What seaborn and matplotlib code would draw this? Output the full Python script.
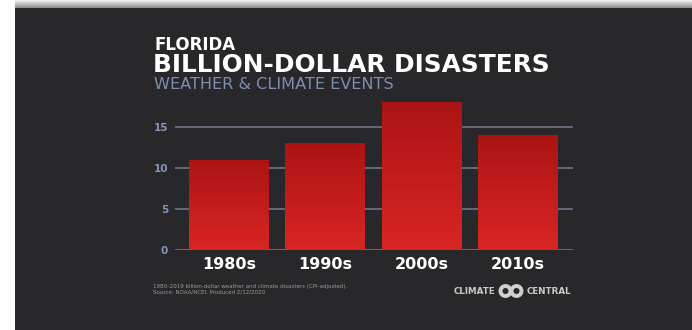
import numpy as np
import pandas as pd
import matplotlib
matplotlib.use("Agg")
import matplotlib.pyplot as plt
import seaborn as sns
from matplotlib.colors import LinearSegmentedColormap
from matplotlib.patches import Rectangle, Ellipse

decades = ["1980s", "1990s", "2000s", "2010s"]
disasters = [11, 13, 18, 14]
y_ticks = [0, 5, 10, 15]

sns.set_theme(style="dark")
plt.rcParams['font.family'] = ['DejaVu Sans']

W, H = 692, 330
fig = plt.figure(figsize=(W / 100, H / 100), dpi=100)
fig.patch.set_facecolor("white")

def fx(x):
    return x / W

def fy(y):
    return 1 - y / H

# dark panel
BG = "#28282a"
fig.patches.append(Rectangle((fx(15), 0), 1 - fx(15), fy(8), transform=fig.transFigure,
                             facecolor=BG, edgecolor="none", zorder=-5))
# top shadow
shadow = np.linspace(0.55, 0.95, 20).reshape(-1, 1)
sax = fig.add_axes([fx(15), fy(8), 1 - fx(15), 8 / H])
sax.imshow(shadow[::-1], aspect="auto", cmap="gray", vmin=0, vmax=1)
sax.axis("off")

ax = fig.add_axes([fx(175), fy(250), fx(573) - fx(175), (250 - 102) / H])
ax.set_facecolor(BG)
df = pd.DataFrame({"decade": decades, "count": disasters})
sns.barplot(data=df, x="decade", y="count", ax=ax, color="#d42222", width=0.83,
            saturation=1, zorder=3, edgecolor="none", linewidth=0)
ax.set_xlim(-0.56, 3.57)
ax.set_ylim(0, 18)
ax.set_yticks(y_ticks)
for t in y_ticks:
    ax.axhline(t, color="#6e7585", lw=1.2, zorder=1)
ax.grid(False)
for s in ax.spines.values():
    s.set_visible(False)
ax.set_xlabel("")
ax.set_ylabel("")
ax.tick_params(axis="y", length=0, pad=5, labelsize=7.5, labelcolor="#8496b8")
ax.tick_params(axis="x", length=0, pad=5, labelsize=11.5, labelcolor="white")
for lab in ax.get_yticklabels():
    lab.set_fontweight("bold")
for lab in ax.get_xticklabels():
    lab.set_fontweight("bold")

cmap = LinearSegmentedColormap.from_list("rg", ["#da2525", "#ab1414"])
grad = np.linspace(0, 1, 256).reshape(-1, 1)
for p in list(ax.patches):
    x0, y0 = p.get_x(), p.get_y()
    w, h = p.get_width(), p.get_height()
    im = ax.imshow(grad, extent=[x0, x0 + w, y0, y0 + h], origin="lower",
                   aspect="auto", cmap=cmap, zorder=4)
    im.set_clip_path(p)
ax.set_xlim(-0.56, 3.57)
ax.set_ylim(0, 18)

# titles
fig.text(fx(154), fy(50.5), "FLORIDA", color="white", fontsize=12, fontweight="bold",
         ha="left", va="baseline")
fig.text(fx(153), fy(72), "BILLION-DOLLAR DISASTERS", color="white", fontsize=17.9,
         fontweight="bold", ha="left", va="baseline")
fig.text(fx(154), fy(89), "WEATHER & CLIMATE EVENTS", color="#7d8eb2", fontsize=11.6,
         fontweight="normal", ha="left", va="baseline")

# footnote
fig.text(fx(153), fy(288), "1980–2019 billion-dollar weather and climate disasters (CPI-adjusted).",
         color="#9a9a9a", fontsize=4.0, ha="left", va="baseline")
fig.text(fx(153), fy(294), "Source: NOAA/NCEI. Produced 2/12/2020",
         color="#9a9a9a", fontsize=4.0, ha="left", va="baseline")

# logo
fig.text(fx(454), fy(294.5), "CLIMATE", color="#c8c8c8", fontsize=6.3, fontweight="bold",
         ha="left", va="baseline")
fig.text(fx(571), fy(294.5), "CENTRAL", color="#c8c8c8", fontsize=6.3, fontweight="bold",
         ha="right", va="baseline")
r = 5.0
for cx in (505.5, 516.5):
    fig.patches.append(Ellipse((fx(cx), fy(291)), 2 * r / W, 2 * r / H, transform=fig.transFigure,
                               facecolor="none", edgecolor="#d0d0d0", lw=2.8, zorder=5))

fig.savefig("out.png", dpi=100, facecolor=fig.get_facecolor())
